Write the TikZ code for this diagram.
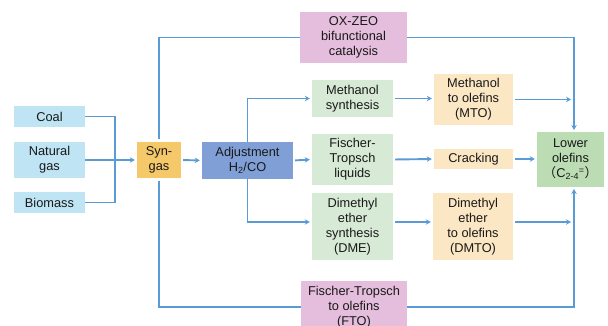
\documentclass[tikz,border=0pt]{standalone}
\usepackage{fontspec}
\setmainfont{Liberation Sans}
\newfontfamily\cjkf{Noto Sans CJK SC}
\usetikzlibrary{arrows.meta,calc}
\definecolor{lblue}{HTML}{BFE4F4}
\definecolor{synor}{HTML}{F5C86A}
\definecolor{adjb}{HTML}{7F9FD6}
\definecolor{lgreen}{HTML}{D6EAD5}
\definecolor{dgreen}{HTML}{BCDDB4}
\definecolor{peach}{HTML}{FBE7C3}
\definecolor{pinkb}{HTML}{E5BEDD}
\definecolor{linec}{HTML}{5B9BD5}
\begin{document}
\begin{tikzpicture}[x=1pt,y=-1pt,
  box/.style={draw=none,inner sep=0pt,align=center,font=\fontsize{12.8}{15}\selectfont,text=black!90},
  conn/.style={draw=linec,line width=1.9pt},
  arr/.style={conn,-{Stealth[length=5pt,width=5.5pt]},shorten >=2pt},
  sarr/.style={arr,shorten <=2pt}]
\path[use as bounding box] (0,0) rectangle (608,326);
\clip (0,0) rectangle (608,326);
% nodes
\node[box,fill=lblue,minimum width=71pt,minimum height=21pt] (coal) at (49.5,116.5) {Coal};
\node[box,fill=lblue,minimum width=71pt,minimum height=36pt] (ngas) at (49.5,160) {Natural\\gas};
\node[box,fill=lblue,minimum width=71pt,minimum height=21pt] (bio) at (49.5,202.5) {Biomass};
\node[box,fill=synor,minimum width=44pt,minimum height=36pt] (syn) at (159,160) {Syn-\\gas};
\node[box,fill=adjb,minimum width=91pt,minimum height=37pt] (adj) at (247.5,160.5) {Adjustment\\H\textsubscript{2}/CO};
\node[box,fill=lgreen,minimum width=81pt,minimum height=37pt] (ms) at (352.5,98.5) {Methanol\\synthesis};
\node[box,fill=lgreen,minimum width=81pt,minimum height=51pt] (ftl) at (352.5,159.5) {Fischer-\\Tropsch\\liquids};
\node[box,fill=lgreen,minimum width=81pt,minimum height=67pt] (dme) at (352.5,226.5) {Dimethyl\\ether\\synthesis\\(DME)};
\node[box,fill=peach,minimum width=79pt,minimum height=51pt] (mto) at (473.5,99.5) {Methanol\\to olefins\\(MTO)};
\node[box,fill=peach,minimum width=79pt,minimum height=20pt] (crk) at (473.5,159) {Cracking};
\node[box,fill=peach,minimum width=80pt,minimum height=67pt] (dmto) at (473,226.5) {Dimethyl\\ether\\to olefins\\(DMTO)};
\node[box,fill=dgreen,minimum width=67pt,minimum height=55pt] (lo) at (570.5,159.5) {Lower\\olefins\\{\cjkf （}C\textsubscript{2-4}\textsuperscript{=}{\cjkf ）}};
\node[box,fill=pinkb,minimum width=107pt,minimum height=51pt] (ox) at (353.5,37.5) {OX-ZEO\\bifunctional\\catalysis};
\node[box,fill=pinkb,minimum width=106pt,minimum height=52pt] (fto) at (354,307) {Fischer-Tropsch\\to olefins\\(FTO)};
% coordinates
\coordinate (j) at (115,160);
\coordinate (tr) at (574,132);
\coordinate (br) at (574,187);
\coordinate (mj) at (573,99.5);
\coordinate (dj) at (573,222);
% connectors
\draw[conn] (coal.east) -| (j) |- (bio.east);
\draw[arr] (ngas.east) -- (syn.west);
\draw[conn,shorten <=3pt] (syn.north) |- (ox.west);
\draw[arr] (ox.east) -| (tr);
\draw[conn,shorten <=3pt] (syn.south) |- (fto.west);
\draw[arr] (fto.east) -| (br);
\draw[sarr] (syn.east) -- (adj.west);
\draw[arr] (adj.north) |- (ms.west);
\draw[sarr] (adj.east) -- (ftl.west);
\draw[arr] (adj.south) |- ([yshift=4.5pt]dme.west);
\draw[sarr] (ms.east) -- (mto.west |- ms.east);
\draw[sarr] (ftl.east) -- (crk.west);
\draw[sarr] ([yshift=4.5pt]dme.east) -- ([yshift=4.5pt]dmto.west);
\draw[sarr] (mto.east) -- (mj);
\draw[sarr] (crk.east) -- (lo.west |- crk.east);
\draw[sarr] ([yshift=4.5pt]dmto.east) -- (dj);
\end{tikzpicture}
\end{document}
